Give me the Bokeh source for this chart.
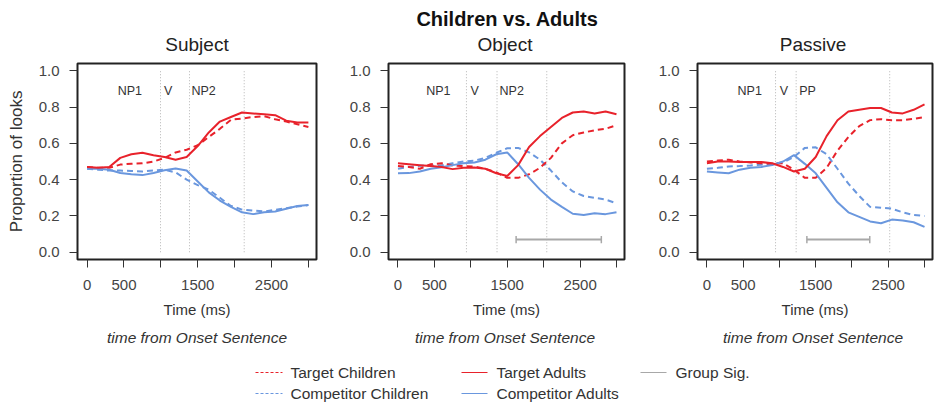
from bokeh.plotting import figure
from bokeh.layouts import column, row
from bokeh.models import Range1d, FixedTicker, PrintfTickFormatter
from bokeh.embed import file_html
from bokeh.resources import INLINE
from bokeh.core.properties import value

# ---------------- data ----------------
time_ms = [0, 150, 300, 450, 600, 750, 900, 1050, 1200, 1350, 1500,
           1650, 1800, 1950, 2100, 2250, 2400, 2550, 2700, 2850, 3000]

sub_target_adults = [0.47, 0.465, 0.47, 0.52, 0.54, 0.548, 0.535, 0.525, 0.51, 0.525, 0.585,
                     0.66, 0.72, 0.745, 0.77, 0.765, 0.76, 0.755, 0.725, 0.715, 0.715]
sub_target_children = [0.47, 0.465, 0.465, 0.483, 0.488, 0.49, 0.50, 0.52, 0.55, 0.565, 0.59,
                       0.635, 0.68, 0.73, 0.737, 0.745, 0.75, 0.733, 0.72, 0.705, 0.69]
sub_comp_adults = [0.46, 0.46, 0.455, 0.437, 0.43, 0.425, 0.437, 0.452, 0.462, 0.45, 0.39,
                   0.33, 0.285, 0.25, 0.22, 0.21, 0.22, 0.225, 0.24, 0.255, 0.26]
sub_comp_children = [0.46, 0.455, 0.45, 0.45, 0.448, 0.445, 0.45, 0.455, 0.44, 0.40, 0.37,
                     0.345, 0.30, 0.255, 0.235, 0.23, 0.225, 0.233, 0.243, 0.252, 0.26]

obj_target_adults = [0.49, 0.485, 0.48, 0.475, 0.47, 0.458, 0.465, 0.467, 0.46, 0.435, 0.42,
                     0.48, 0.58, 0.64, 0.69, 0.74, 0.77, 0.775, 0.765, 0.775, 0.76]
obj_target_children = [0.475, 0.47, 0.46, 0.485, 0.49, 0.478, 0.475, 0.472, 0.46, 0.44, 0.41,
                       0.41, 0.43, 0.465, 0.52, 0.60, 0.645, 0.66, 0.672, 0.68, 0.70]
obj_comp_adults = [0.435, 0.436, 0.445, 0.46, 0.468, 0.48, 0.49, 0.495, 0.51, 0.54, 0.55,
                   0.485, 0.41, 0.345, 0.29, 0.25, 0.212, 0.205, 0.215, 0.21, 0.22]
obj_comp_children = [0.46, 0.47, 0.477, 0.478, 0.478, 0.49, 0.50, 0.505, 0.52, 0.548, 0.573,
                     0.575, 0.55, 0.51, 0.45, 0.385, 0.335, 0.31, 0.30, 0.29, 0.27]

pas_target_adults = [0.49, 0.50, 0.50, 0.497, 0.497, 0.497, 0.49, 0.47, 0.445, 0.46, 0.525,
                     0.64, 0.727, 0.775, 0.785, 0.795, 0.795, 0.77, 0.765, 0.785, 0.815]
pas_target_children = [0.50, 0.505, 0.51, 0.50, 0.495, 0.49, 0.488, 0.49, 0.455, 0.41, 0.41,
                       0.465, 0.56, 0.635, 0.695, 0.728, 0.733, 0.727, 0.727, 0.735, 0.745]
pas_comp_adults = [0.445, 0.44, 0.435, 0.455, 0.465, 0.47, 0.48, 0.50, 0.535, 0.487, 0.435,
                   0.355, 0.275, 0.22, 0.195, 0.17, 0.16, 0.18, 0.175, 0.165, 0.14]
pas_comp_children = [0.46, 0.465, 0.473, 0.475, 0.478, 0.482, 0.488, 0.495, 0.525, 0.575, 0.578,
                     0.54, 0.46, 0.378, 0.31, 0.25, 0.245, 0.24, 0.22, 0.205, 0.20]

panel_titles = ["Subject", "Object", "Passive"]
sub_bounds = [995, 1388, 2130]
obj_bounds = [940, 1360, 2043]
pas_bounds = [946, 1230, 2520]
sub_region_labels = ["NP1", "V", "NP2"]
obj_region_labels = ["NP1", "V", "NP2"]
pas_region_labels = ["NP1", "V", "PP"]
sub_region_x = [580, 1100, 1580]
obj_region_x = [555, 1053, 1562]
pas_region_x = [590, 1062, 1387]
region_label_y = 0.89

obj_sig = [1622, 2792]
pas_sig = [1378, 2245]
sig_y = 0.07

x_ticks = [0, 500, 1000, 1500, 2000, 2500, 3000]
x_tick_labels = {0: "0", 500: "500", 1000: "", 1500: "1500", 2000: "", 2500: "2500", 3000: ""}
y_ticks = [0.0, 0.2, 0.4, 0.6, 0.8, 1.0]

main_title = "Children vs. Adults"
y_label = "Proportion of looks"
x_label = "Time (ms)"
x_sublabel = "time from Onset Sentence"
legend_labels = ["Target Children", "Competitor Children", "Target Adults",
                 "Competitor Adults", "Group Sig."]

# ---------------- style ----------------
FONT = "Liberation Sans"
RED = "#e8222b"
BLUE = "#6a97de"
GRAY = "#a8a8a8"
DOT = "#b4b4b4"
TXT = "#333333"

# page layout (page pixel coordinates; the page has no body margin)
FIG_EDGES = [0, 346, 655, 934]
FRAME_LEFTS = [77, 385, 693]
FRAME_W = 239
TOP_Y = (0, 55)
PANEL_H = 267
BOT_Y = (322, 403)

panels_data = [
    (sub_target_children, sub_comp_children, sub_target_adults, sub_comp_adults,
     sub_bounds, sub_region_labels, sub_region_x, None),
    (obj_target_children, obj_comp_children, obj_target_adults, obj_comp_adults,
     obj_bounds, obj_region_labels, obj_region_x, obj_sig),
    (pas_target_children, pas_comp_children, pas_target_adults, pas_comp_adults,
     pas_bounds, pas_region_labels, pas_region_x, pas_sig),
]


def make_panel(i):
    tc, cc, ta, ca, bounds, rlabels, rx, sig = panels_data[i]
    x0, x1 = FIG_EDGES[i], FIG_EDGES[i + 1]
    fl = FRAME_LEFTS[i]
    p = figure(width=x1 - x0, height=PANEL_H,
               x_range=Range1d(-130, 3110), y_range=Range1d(-0.04, 1.04),
               output_backend="svg", toolbar_location=None,
               min_border_left=fl - x0, min_border_right=x1 - (fl + FRAME_W),
               min_border_top=8, min_border_bottom=63)
    p.grid.visible = False
    p.outline_line_color = "#222222"
    p.outline_line_width = 2
    p.background_fill_color = "white"
    p.border_fill_color = "white"

    # axes
    p.xaxis.ticker = FixedTicker(ticks=x_ticks)
    p.xaxis.major_label_overrides = x_tick_labels
    p.yaxis.ticker = FixedTicker(ticks=y_ticks)
    p.yaxis.formatter = PrintfTickFormatter(format="%.1f")
    for ax in (p.xaxis[0], p.yaxis[0]):
        ax.axis_line_color = None
        ax.major_tick_line_color = "#333333"
        ax.major_tick_line_width = 1
        ax.major_tick_out = 8
        ax.major_tick_in = 0
        ax.minor_tick_line_color = None
        ax.major_label_text_font = FONT
        ax.major_label_text_font_size = "15px"
        ax.major_label_text_color = "#444444"
        ax.axis_label_text_font = FONT
        ax.axis_label_text_font_style = "normal"
        ax.axis_label_text_color = TXT
    p.xaxis.major_label_standoff = 12
    p.yaxis.major_label_standoff = 10
    p.xaxis.axis_label = x_label
    p.xaxis.axis_label_text_font_size = "15px"
    p.xaxis.axis_label_standoff = 8
    if i == 0:
        p.yaxis.axis_label = y_label
        p.yaxis.axis_label_text_font_size = "17px"
        p.yaxis.axis_label_standoff = 10

    # region boundaries
    p.segment(x0=bounds, y0=[0] * len(bounds), x1=bounds, y1=[1] * len(bounds),
              line_color=DOT, line_width=1, line_dash="1 2")
    p.text(x=rx, y=[region_label_y] * len(rx), text=rlabels,
           text_font=value(FONT), text_font_size="12.5px", text_color=TXT,
           text_align="center", text_baseline="middle")

    # significance bar
    if sig is not None:
        p.segment(x0=[sig[0]], y0=[sig_y], x1=[sig[1]], y1=[sig_y],
                  line_color=GRAY, line_width=2)
        p.segment(x0=sig, y0=[sig_y - 0.02] * 2, x1=sig, y1=[sig_y + 0.02] * 2,
                  line_color=GRAY, line_width=1.5)

    # curves
    p.line(time_ms, cc, line_color=BLUE, line_width=2, line_dash="6 4")
    p.line(time_ms, tc, line_color=RED, line_width=2, line_dash="6 4")
    p.line(time_ms, ca, line_color=BLUE, line_width=2)
    p.line(time_ms, ta, line_color=RED, line_width=2)
    return p


def text_fig(y_span):
    f = figure(width=FIG_EDGES[-1] - FIG_EDGES[0], height=y_span[1] - y_span[0],
               x_range=Range1d(FIG_EDGES[0], FIG_EDGES[-1]),
               y_range=Range1d(y_span[1], y_span[0]),
               x_axis_type=None, y_axis_type=None, min_border=0,
               output_backend="svg", toolbar_location=None)
    f.outline_line_color = None
    f.grid.visible = False
    f.border_fill_color = "white"
    return f


centers = [fl + FRAME_W / 2 for fl in FRAME_LEFTS]

top = text_fig(TOP_Y)
top.text(x=[507], y=[18], text=[main_title], text_font=value(FONT),
         text_font_size="20px", text_font_style="bold", text_color="#111111",
         text_align="center", text_baseline="middle")
top.text(x=centers, y=[44] * 3, text=panel_titles, text_font=value(FONT),
         text_font_size="19px", text_color="#222222",
         text_align="center", text_baseline="middle")

bot = text_fig(BOT_Y)
bot.text(x=centers, y=[337] * 3, text=[x_sublabel] * 3, text_font=value(FONT),
         text_font_size="15.5px", text_font_style="italic", text_color=TXT,
         text_align="center", text_baseline="middle")

# legend
leg_line_x0 = [255, 255, 461, 461, 640]
leg_line_x1 = [282, 282, 487, 487, 666]
leg_text_x = [290, 290, 496, 496, 675]
leg_y = [372, 393, 372, 393, 372]
leg_colors = [RED, BLUE, RED, BLUE, GRAY]
leg_dash = ["3 2", "3 2", "solid", "solid", "solid"]
for k in range(5):
    bot.segment(x0=[leg_line_x0[k]], y0=[leg_y[k]], x1=[leg_line_x1[k]], y1=[leg_y[k]],
                line_color=leg_colors[k], line_width=1.2, line_dash=leg_dash[k])
bot.text(x=leg_text_x, y=leg_y, text=legend_labels, text_font=value(FONT),
         text_font_size="15.5px", text_color=TXT, text_align="left", text_baseline="middle")

panels = [make_panel(i) for i in range(3)]
layout = column(top, row(*panels, spacing=0), bot, spacing=0)

open("out.html", "w").write(file_html(layout, INLINE))
